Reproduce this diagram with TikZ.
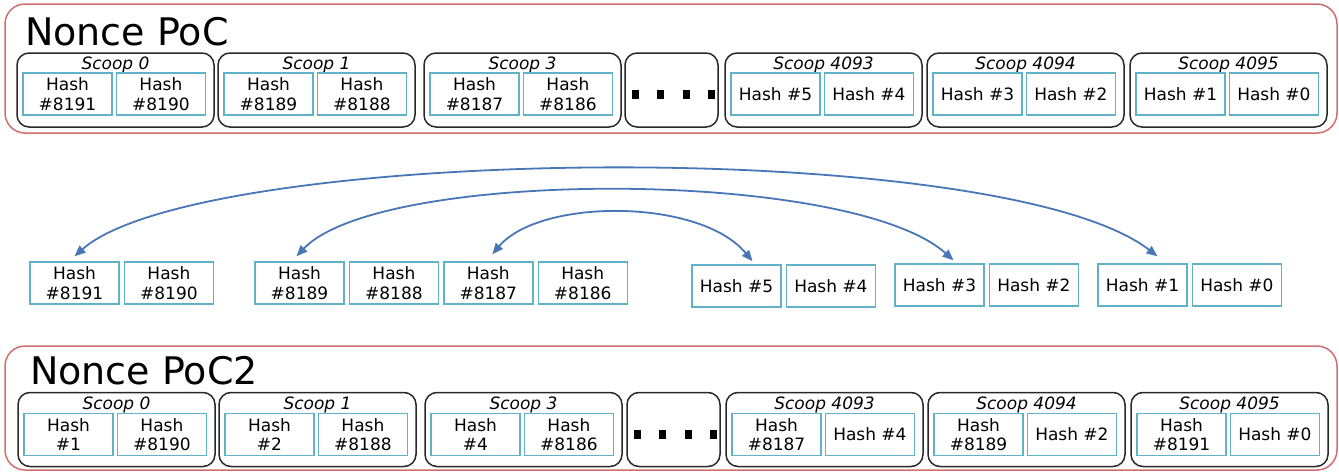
\documentclass[tikz,border=0pt]{standalone}
\usepackage{fontspec}
\setmainfont{DejaVu Sans}
\usepackage{xcolor}
\usetikzlibrary{positioning,arrows.meta}

\definecolor{noncered}{RGB}{208,110,110}
\definecolor{cellblue}{RGB}{96,178,200}
\definecolor{scoopgrey}{RGB}{40,40,40}
\definecolor{swapblue}{RGB}{72,118,182}

\newcommand\hashfont{\fontsize{17}{19.5}\selectfont}
\newcommand\scoopfont{\fontsize{17}{19.5}\selectfont\itshape}
\newcommand\titlefont{\fontsize{38}{40}\selectfont}

\tikzset{
  hashcell/.style={draw=cellblue, line width=1.4pt, minimum width=89pt, minimum height=42pt, inner sep=0pt, align=center, font=\hashfont},
  scoopbox/.style={draw=scoopgrey, line width=1.5pt, rounded corners=12pt, minimum width=197pt, minimum height=74pt, inner sep=0pt},
  noncebox/.style={draw=noncered, line width=1.5pt, rounded corners=20pt},
  dotsq/.style={fill=black, minimum width=7pt, minimum height=9pt, inner sep=0pt},
  swapline/.style={draw=swapblue, line width=1.8pt, {Triangle[length=11pt,width=9pt]}-{Triangle[length=11pt,width=9pt]}},
}

\begin{document}
\begin{tikzpicture}[x=1pt, y=-1pt]
\useasboundingbox (0,0) rectangle (1339,474);

% Nonce PoC
\draw[noncebox] (5,4) rectangle (1337,133);
\node[anchor=base west, inner sep=0pt, font=\titlefont] (poc) at (25,45) {Nonce PoC};
\foreach \sx/\lab/\ha/\hb in {17/0/{Hash\\\#8191}/{Hash\\\#8190},
    218/1/{Hash\\\#8189}/{Hash\\\#8188},
    424/3/{Hash\\\#8187}/{Hash\\\#8186},
    725/4093/{Hash \#5}/{Hash \#4},
    927/4094/{Hash \#3}/{Hash \#2},
    1130/4095/{Hash \#1}/{Hash \#0}}{
  \node[scoopbox] (t\lab) at (\sx+98.5,90) {};
  \node[anchor=base, inner sep=0pt, font=\scoopfont] (tl\lab) at (\sx+98.5,69) {Scoop \lab};
  \node[hashcell] (ta\lab) at (\sx+50.5,94) {\ha};
  \node[hashcell, right=3pt of ta\lab] (tb\lab) {\hb};
}
\node[scoopbox, minimum width=93pt] (tdots) at (671.5,90) {};
\foreach \dx [count=\i] in {635,660,686,711}
  \node[dotsq] (td\i) at (\dx,94) {};

% hashes taken apart
\node[hashcell] (m8191) at (74.5,283) {Hash\\\#8191};
\node[hashcell, right=4pt of m8191] (m8190) {Hash\\\#8190};
\node[hashcell] (m8189) at (299.5,283) {Hash\\\#8189};
\node[hashcell, right=4pt of m8189] (m8188) {Hash\\\#8188};
\node[hashcell, right=4pt of m8188] (m8187) {Hash\\\#8187};
\node[hashcell, right=4pt of m8187] (m8186) {Hash\\\#8186};
\node[hashcell] (m5) at (736.5,286) {Hash \#5};
\node[hashcell, right=4pt of m5] (m4) {Hash \#4};
\node[hashcell] (m3) at (939.5,285) {Hash \#3};
\node[hashcell, right=4pt of m3] (m2) {Hash \#2};
\node[hashcell] (m1) at (1142.5,285) {Hash \#1};
\node[hashcell, right=4pt of m1] (m0) {Hash \#0};

\draw[swapline] ([yshift=5pt]m8191.north) .. controls (200,145) and (1000,135) .. ([xshift=15pt,yshift=7pt]m1.north);
\draw[swapline] ([xshift=-3pt,yshift=5pt]m8189.north) .. controls (380,168) and (850,168) .. ([xshift=14pt,yshift=3pt]m3.north);
\draw[swapline] ([xshift=4pt,yshift=7pt]m8187.north) .. controls (540,198) and (700,198) .. ([xshift=16pt,yshift=3pt]m5.north);

% Nonce PoC2
\draw[noncebox] (5,346) rectangle (1337,470);
\node[anchor=base west, inner sep=0pt, font=\titlefont] (poc2) at (30,384) {Nonce PoC2};
\foreach \sx/\lab/\ha/\hb in {17/0/{Hash\\\#1}/{Hash\\\#8190},
    218/1/{Hash\\\#2}/{Hash\\\#8188},
    424/3/{Hash\\\#4}/{Hash\\\#8186},
    725/4093/{Hash\\\#8187}/{Hash \#4},
    927/4094/{Hash\\\#8189}/{Hash \#2},
    1130/4095/{Hash\\\#8191}/{Hash \#0}}{
  \node[scoopbox] (b\lab) at (\sx+99.5,429.5) {};
  \node[anchor=base, inner sep=0pt, font=\scoopfont] (bl\lab) at (\sx+99.5,409) {Scoop \lab};
  \node[hashcell] (ba\lab) at (\sx+51.5,434.5) {\ha};
  \node[hashcell, right=3pt of ba\lab] (bb\lab) {\hb};
}
\node[scoopbox, minimum width=93pt] (bdots) at (673.5,429.5) {};
\foreach \dx [count=\i] in {637,662,688,713}
  \node[dotsq] (bd\i) at (\dx,434) {};
\end{tikzpicture}
\end{document}
